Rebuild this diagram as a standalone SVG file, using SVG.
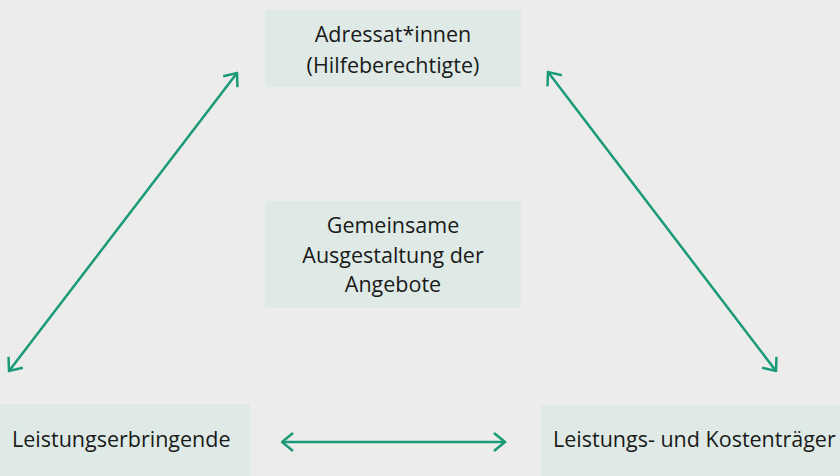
<svg xmlns="http://www.w3.org/2000/svg" width="840" height="476" viewBox="0 0 840 476">
<defs>
<style>
.box{fill:#dfeae6}
.t{font-family:"Open Sans","Noto Sans","DejaVu Sans",sans-serif;font-size:21.5px;fill:#1a1a1a}
.c{text-anchor:middle}
.con{stroke:#1a9a78;stroke-width:2.5;fill:none}
</style>
<marker id="ah" viewBox="0 0 14 20" refX="12.5" refY="10" markerWidth="14" markerHeight="20" markerUnits="userSpaceOnUse" orient="auto-start-reverse">
<path d="M1.5,1 L12.5,10 L1.5,19" fill="none" stroke="#1a9a78" stroke-width="2.5"/>
</marker>
</defs>
<rect width="840" height="476" fill="#ececea"/>
<g id="adressaten">
<rect class="box" x="265" y="10" width="256" height="77"/>
<text class="t c" x="393" y="42">Adressat*innen</text>
<text class="t c" x="393" y="73">(Hilfeberechtigte)</text>
</g>
<g id="gemeinsam">
<rect class="box" x="265" y="201" width="256" height="107"/>
<text class="t c" x="393" y="233">Gemeinsame</text>
<text class="t c" x="393" y="263">Ausgestaltung der</text>
<text class="t c" x="393" y="292">Angebote</text>
</g>
<g id="leistungserbringende">
<rect class="box" x="0" y="404" width="250" height="72"/>
<text class="t" x="12" y="447">Leistungserbringende</text>
</g>
<g id="kostentraeger">
<rect class="box" x="541" y="405" width="299" height="71"/>
<text class="t" x="553" y="447">Leistungs- und Kostenträger</text>
</g>
<g id="connectors">
<line class="con" x1="9" y1="371" x2="237" y2="73" marker-start="url(#ah)" marker-end="url(#ah)"/>
<line class="con" x1="548" y1="72" x2="776" y2="371" marker-start="url(#ah)" marker-end="url(#ah)"/>
<line class="con" x1="282" y1="442" x2="505" y2="442" marker-start="url(#ah)" marker-end="url(#ah)"/>
</g>
</svg>
